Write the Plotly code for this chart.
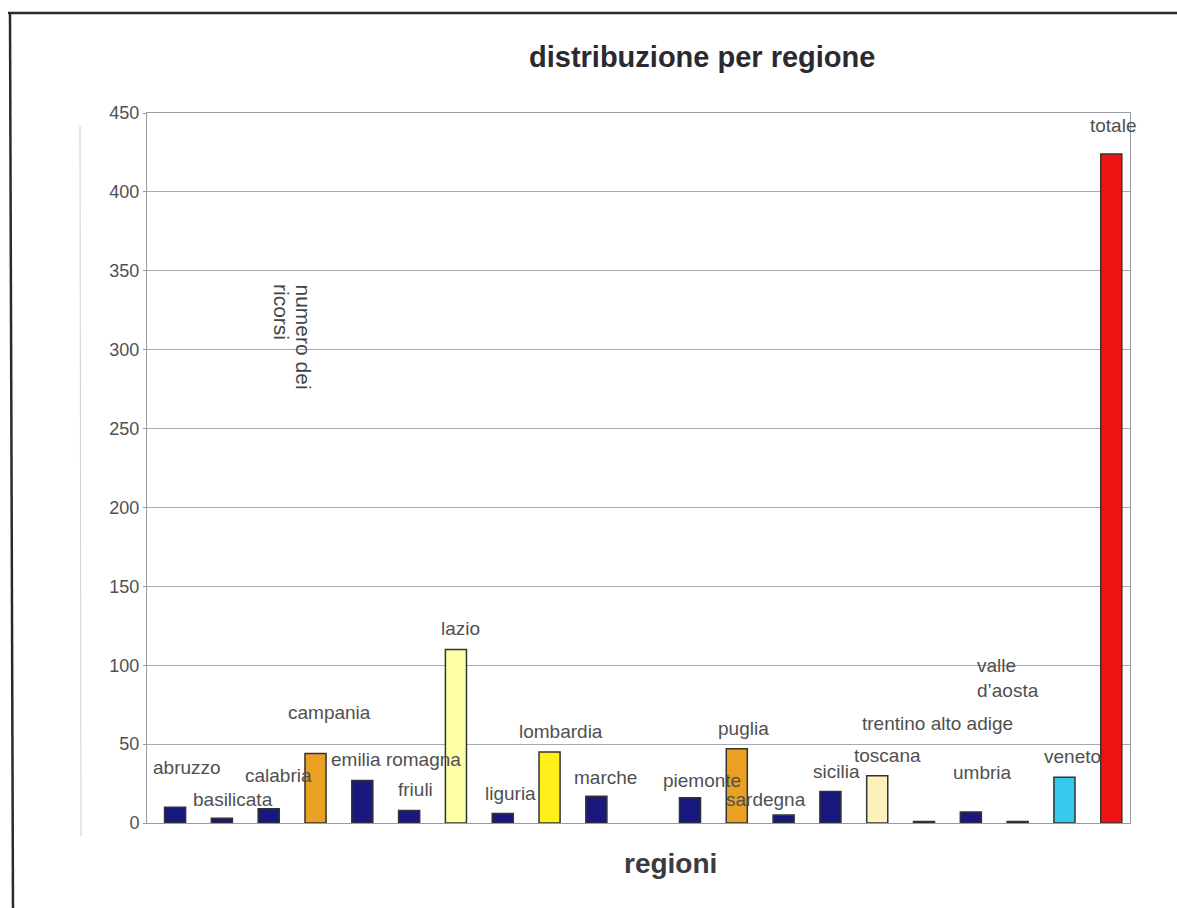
import plotly.graph_objects as go

# ---- data ----
regions = ["abruzzo", "basilicata", "calabria", "campania", "emilia romagna", "friuli",
           "lazio", "liguria", "lombardia", "marche", "molise", "piemonte", "puglia",
           "sardegna", "sicilia", "toscana", "trentino alto adige", "umbria",
           "valle d’aosta", "veneto", "totale"]
ricorsi = [10, 3, 9, 44, 27, 8, 110, 6, 45, 17, 0, 16, 47, 5, 20, 30, 1, 7, 1, 29, 424]
labels = ["abruzzo", "basilicata", "calabria", "campania", "emilia romagna", "friuli",
          "lazio", "liguria", "lombardia", "marche", "", "piemonte", "puglia",
          "sardegna", "sicilia", "toscana", "trentino alto adige", "umbria",
          "valle<br>d’aosta", "veneto", "totale"]
y_ticks = [0, 50, 100, 150, 200, 250, 300, 350, 400, 450]

# ---- styles ----
NAVY = "#18187f"
color_map = {
    "campania": "#E9A023",
    "lazio": "#FFFFA8",
    "lombardia": "#FFF01C",
    "puglia": "#E9A023",
    "toscana": "#FFF1BC",
    "veneto": "#38C8EE",
    "totale": "#EE1414",
}
bar_colors = [color_map.get(r, NAVY) for r in regions]
line_widths = [0 if v == 0 else 1.5 for v in ricorsi]

# label placement (y in data units, x offset in px)
label_pos = {
    "abruzzo": (35, 12), "basilicata": (15, 11), "calabria": (30, 10),
    "campania": (70, 14), "emilia romagna": (40.5, 34), "friuli": (21, 6),
    "lazio": (123, 5), "liguria": (19, 8), "lombardia": (58, 11),
    "marche": (29, 9), "piemonte": (27, 12), "puglia": (60, 7),
    "sardegna": (14.6, -18), "sicilia": (32.5, 6), "toscana": (42.6, 10),
    "trentino alto adige": (63, 13), "umbria": (32, 12),
    "valle d’aosta": (92, -43), "veneto": (42, 8), "totale": (442, 2),
}

FONT = "Liberation Sans, Arial, sans-serif"
TXT = "#505050"

L, R, T, B = 147, 1130, 113, 823
def px2paper_x(px):
    return (px - L) / (R - L)
def px2paper_y(py):
    return (B - py) / (B - T)

fig = go.Figure(go.Bar(
    x=regions, y=ricorsi, width=0.45,
    marker=dict(color=bar_colors, line=dict(color="#333333", width=line_widths)),
    hoverinfo="x+y",
))

annotations = []
for reg, lab in zip(regions, labels):
    if not lab:
        continue
    yv, dx = label_pos[reg]
    a = dict(x=reg, y=yv, xref="x", yref="y", text=lab, showarrow=False,
             xshift=dx, xanchor="center", yanchor="middle",
             font=dict(family=FONT, size=19, color=TXT))
    if reg == "valle d’aosta":
        a.update(xanchor="left", align="left")
    annotations.append(a)

# rotated y title inside plot
annotations.append(dict(x=px2paper_x(303), y=px2paper_y(282), xref="paper", yref="paper",
                        text="numero dei", showarrow=False, textangle=90,
                        xanchor="center", yanchor="top",
                        font=dict(family=FONT, size=21, color="#444")))
annotations.append(dict(x=px2paper_x(282), y=px2paper_y(282), xref="paper", yref="paper",
                        text="ricorsi", showarrow=False, textangle=90,
                        xanchor="center", yanchor="top",
                        font=dict(family=FONT, size=21, color="#444")))

# title & x title
annotations.append(dict(x=px2paper_x(702), y=px2paper_y(57), xref="paper", yref="paper",
                        text="<b>distribuzione per regione</b>", showarrow=False,
                        xanchor="center", yanchor="middle",
                        font=dict(family=FONT, size=29, color="#2a2a30")))
annotations.append(dict(x=px2paper_x(670), y=px2paper_y(863), xref="paper", yref="paper",
                        text="<b>regioni</b>", showarrow=False,
                        xanchor="center", yanchor="middle",
                        font=dict(family=FONT, size=28, color="#3a3a40")))

shapes = [
    # outer frame (top and left)
    dict(type="line", xref="paper", yref="paper",
         x0=px2paper_x(8), x1=px2paper_x(1177), y0=px2paper_y(13), y1=px2paper_y(13),
         line=dict(color="#2a2a35", width=2.5)),
    dict(type="line", xref="paper", yref="paper",
         x0=px2paper_x(10), x1=px2paper_x(13), y0=px2paper_y(13), y1=px2paper_y(912),
         line=dict(color="#2a2a35", width=2.5)),
    # faint vertical line
    dict(type="line", xref="paper", yref="paper",
         x0=px2paper_x(80), x1=px2paper_x(81), y0=px2paper_y(126), y1=px2paper_y(836),
         line=dict(color="#d0d0d4", width=1)),
]

fig.update_layout(
    width=1177, height=908,
    margin=dict(l=L, r=1177 - R, t=T, b=908 - B),
    paper_bgcolor="white", plot_bgcolor="white",
    showlegend=False,
    annotations=annotations,
    shapes=shapes,
    font=dict(family=FONT, color=TXT),
    xaxis=dict(range=[-0.6, 20.4], showticklabels=False, ticks="",
               showline=True, linecolor="#9a9aa2", linewidth=1, mirror=True,
               showgrid=False, zeroline=False, fixedrange=True),
    yaxis=dict(range=[0, 450], tickvals=y_ticks, ticks="outside", ticklen=3,
               tickcolor="#9a9aa2", tickfont=dict(family=FONT, size=18, color="#505050"),
               showline=True, linecolor="#9a9aa2", linewidth=1, mirror=True,
               showgrid=True, gridcolor="#a8a8b0", gridwidth=1,
               zeroline=False, fixedrange=True),
)

fig.write_html("out.html")
